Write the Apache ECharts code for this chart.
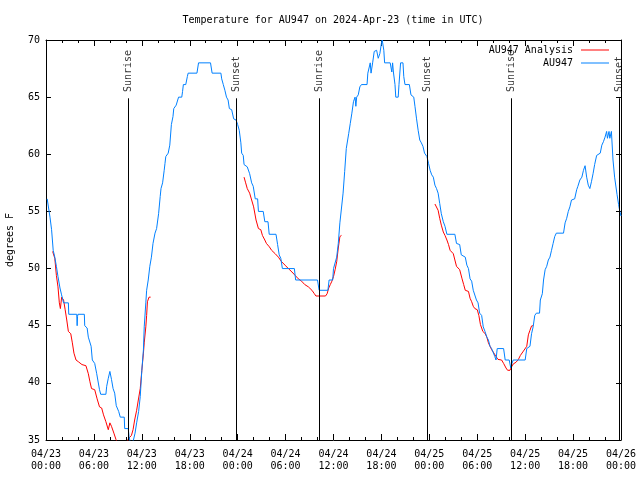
<!DOCTYPE html>
<html>
<head>
<meta charset="utf-8">
<script src="https://cdn.jsdelivr.net/npm/echarts@6/dist/echarts.min.js"></script>
<style>html,body{margin:0;padding:0;background:#fff}#c{width:640px;height:480px}</style>
</head>
<body>
<div id="c"></div>
<script>
// Hours since 2024-04-23 00:00 UTC
var obsTime = [0.15,0.3,0.5,0.7,0.9,1.1,1.3,1.5,1.75,1.95,2.2,2.8,2.85,3.85,3.9,3.95,4.0,4.8,4.85,5.15,5.3,5.65,5.8,6.1,6.35,6.7,6.85,7.5,7.6,7.8,8.0,8.2,8.4,8.6,8.8,9.1,9.3,9.8,9.85,10.3,10.4,10.6,10.8,10.95,11.15,11.35,11.6,11.8,12.0,12.2,12.3,12.5,12.6,12.8,13.0,13.2,13.4,13.65,13.85,14.1,14.3,14.4,14.6,14.8,14.9,15.0,15.3,15.5,15.7,15.9,16.0,16.3,16.6,17.0,17.1,17.2,17.5,17.7,17.8,18.9,19.1,20.6,20.8,21.9,22.0,22.2,22.4,22.6,22.8,22.96,23.25,23.5,23.8,24.0,24.2,24.4,24.5,24.7,24.8,25.2,25.5,25.75,25.95,26.2,26.5,26.6,27.2,27.4,27.8,27.95,28.8,29.0,29.2,29.4,29.6,31.1,31.26,34.0,34.2,35.3,35.45,35.9,36.0,36.2,36.4,36.6,36.8,37.0,37.2,37.4,37.6,37.9,38.1,38.3,38.5,38.7,38.8,38.9,39.1,39.3,39.5,40.2,40.3,40.6,40.7,40.9,41.1,41.4,41.6,41.8,42.0,42.1,42.3,42.4,43.1,43.3,43.4,43.5,43.7,43.8,44.1,44.2,44.4,44.7,44.8,44.95,45.5,45.7,46.05,46.2,46.4,46.6,46.8,47.0,47.2,47.4,47.7,47.9,48.1,48.3,48.5,48.7,48.9,49.1,49.3,49.5,49.75,49.96,50.2,51.2,51.4,51.8,52.0,52.5,52.7,52.9,53.1,53.3,53.5,53.7,53.9,54.1,54.3,54.55,54.75,54.97,55.2,55.4,55.6,55.8,56.0,56.2,56.35,56.5,57.3,57.5,58.0,58.2,58.35,58.5,60.0,60.2,60.6,60.8,61.0,61.2,61.4,61.8,61.9,62.15,62.3,62.5,62.7,62.9,63.1,63.3,63.5,63.7,63.9,64.8,65.0,65.2,65.4,65.6,65.8,66.2,66.45,66.6,66.85,67.1,67.3,67.5,67.7,67.9,68.1,68.3,68.5,68.7,68.95,69.4,69.6,69.8,70.0,70.2,70.3,70.5,70.6,70.8,71.0,71.2,71.5,71.7,71.85,72.0];
var obsTemp = [56.1,56,54.5,53.4,51.6,51,50.2,49.3,48.3,47.7,47,47,46,46,45,45.8,46,46,45,44.8,44,43.2,42,41.7,40.8,39.4,39,39,39.7,40.4,41,40.3,39.5,39.1,38,37.5,37,37,36,36,35.3,34.6,34.8,35,35.6,36.5,37.5,38.8,41.1,42.9,44.9,47,48.1,49,50.2,51,52.2,53.1,53.5,54.8,56.3,57,57.5,58.6,59.2,59.8,60.1,60.8,62.6,63.3,64,64.3,65,65,65.5,66.1,66.1,66.8,67.1,67.1,68,68,67.1,67.1,66.6,66.1,65.6,65,64.75,64,63.9,63.1,63,62.6,62.1,61,60.1,59.9,59.1,58.9,58.3,57.5,57.2,56.1,56.1,55,55,54.1,54.1,53,53,52.1,51.2,50.9,50,50,49,49,48.1,48.1,49,49,50,50,51,52.2,54,55.3,56.6,58.5,60.5,61.8,62.7,63.6,64.6,65,64.2,65,65.2,65.9,66.1,66.1,67.1,68,67.1,68,69,69.1,68.4,68.8,69.7,70,69.1,68,68,67.2,68,67.2,66.1,65,65,66.1,68,68,66.8,66.1,66.1,65.2,65,64.2,63.1,62.1,61.25,61,60.7,60.1,59.8,59.2,58.6,58.2,58,57.3,57,56.6,55.7,54.8,54.1,53.7,53,53,52.2,52.1,51.2,51,50.3,50,49.1,48.9,48.1,48,47.25,47,46.1,45.9,44.9,44.5,44,43.75,43.2,43,42.9,42.3,42,43,43,42,42,41.3,41.7,42,42,43,43.2,44.3,44.9,45.9,46.1,46.1,47.25,47.8,49,49.9,50.2,50.75,51,51.6,52.2,52.8,53.1,53.1,54,54.4,55,55.4,56,56.1,56.9,57.2,57.75,58,58.6,59,58,57.3,57,57.6,58.3,59.1,59.9,60.1,60.8,61.1,61.5,62,61.4,62,61.4,62,59.5,58,56.5,55.6,55,54.6];

var anaTime = [0.83,1.0,1.1,1.3,1.5,1.67,1.8,1.96,2.2,2.4,2.6,2.8,3.1,3.3,3.5,3.76,4.05,4.5,5.0,5.3,5.5,5.7,6.1,6.4,6.7,6.97,7.2,7.5,7.8,8.0,8.2,8.5,8.76,9.2,9.7,10.1,10.3,10.7,10.9,11.1,11.35,11.56,11.8,12.0,12.2,12.3,12.5,12.6,12.7,12.9,13.1,
  18,
  24.8,25.0,25.2,25.5,25.75,26.0,26.3,26.6,26.9,27.1,27.4,27.6,27.97,28.25,28.7,29.1,29.5,29.93,30.35,30.8,31.2,31.6,32.0,32.4,32.85,33.3,33.6,33.8,35.0,35.2,35.4,35.6,35.8,36.0,36.2,36.4,36.6,36.8,37.0,
  42,
  48.7,48.9,49.1,49.3,49.5,49.75,49.96,50.2,50.4,50.6,51.0,51.2,51.4,51.8,52.1,52.3,52.5,52.9,53.1,53.3,53.5,53.7,54.0,54.2,54.4,54.7,55.0,55.2,55.4,55.6,55.8,56.0,56.35,56.6,57.05,57.3,57.6,57.8,58.1,58.3,58.5,58.85,59.15,59.4,59.7,59.9,60.2,60.4,60.6,60.8,61.0];
var anaTemp = [51.5,51.4,50.9,49.4,48.4,47,46.5,47.5,47.25,46.4,45.5,44.5,44.3,43.5,42.6,42,41.85,41.6,41.5,40.8,40.1,39.5,39.4,38.6,37.9,37.8,37.2,36.6,35.9,36.5,36.2,35.6,35.05,34.3,34.0,34.6,35.1,35.4,35.9,36.75,37.6,38.5,39.5,41.1,42.6,43.5,44.9,45.9,47.1,47.5,47.5,
  null,
  58.0,57.5,57,56.6,56,55.4,54.25,53.5,53.4,52.9,52.5,52.2,51.9,51.6,51.3,51,50.6,50.3,50,49.7,49.4,49.1,48.9,48.6,48.4,48.1,47.8,47.6,47.6,47.8,48.3,48.6,48.9,49.3,49.9,50.6,51.8,52.8,52.9,
  null,
  55.65,55.65,55.1,54.4,53.8,53.2,52.9,52.5,52.1,51.6,51.3,50.75,50.2,49.9,49.1,48.6,48.1,48,47.4,47.1,46.7,46.5,46.4,45.9,45.1,44.5,44.3,44,43.5,43.2,42.9,42.7,42.3,42.05,42,41.7,41.3,41.1,41.1,41.4,41.65,41.8,42.05,42.4,42.7,42.8,43.2,44.2,44.6,44.98,45];

var sunTime = [10.3, 23.8, 34.2, 47.75, 58.25, 71.8];
var sunLabel = ['Sunrise','Sunset','Sunrise','Sunset','Sunrise','Sunset'];
var sunLineTop = 64.9;
var sunLabelBase = 65.45;

var xTickLabels = ['04/23\n00:00','04/23\n06:00','04/23\n12:00','04/23\n18:00','04/24\n00:00','04/24\n06:00','04/24\n12:00','04/24\n18:00','04/25\n00:00','04/25\n06:00','04/25\n12:00','04/25\n18:00','04/26\n00:00'];

var FONT = 'DejaVu Sans Mono';

var obsData = obsTime.map(function(t,i){return [t, obsTemp[i]];});
var anaData = anaTime.map(function(t,i){return [t, anaTemp[i] === null ? '-' : anaTemp[i]];});
var sunData = sunTime.map(function(t,i){return {name: sunLabel[i], value: [t, sunLabelBase]};});
var sunLines = sunTime.map(function(t){return [{coord:[t, sunLineTop]},{coord:[t, 35]}];});

var chart = echarts.init(document.getElementById('c'), null, {renderer:'canvas'});
var xCommon = {
  type:'value', min:0, max:72, interval:6,
  axisLine:{show:true, onZero:false, lineStyle:{color:'#000', width:1}},
  axisTick:{show:true, inside:true, length:6, lineStyle:{color:'#000'}},
  minorTick:{show:true, splitNumber:3, length:3, lineStyle:{color:'#000'}},
  splitLine:{show:false}
};
var yCommon = {
  type:'value', min:35, max:70, interval:5,
  axisLine:{show:true, onZero:false, lineStyle:{color:'#000', width:1}},
  axisTick:{show:true, inside:true, length:5, lineStyle:{color:'#000'}},
  splitLine:{show:false}
};
chart.setOption({
  animation:false,
  backgroundColor:'#fff',
  title:{
    text:'Temperature for AU947 on 2024-Apr-23 (time in UTC)',
    left:333, top:15, textAlign:'center', padding:0,
    textStyle:{fontFamily:FONT, fontSize:10, fontWeight:'normal', color:'#000'}
  },
  legend:{
    data:['AU947 Analysis','AU947'],
    orient:'vertical', right:31, top:44, align:'right', padding:0,
    icon:'rect', itemWidth:28, itemHeight:1, itemGap:1,
    textStyle:{fontFamily:FONT, fontSize:10, color:'#000', lineHeight:12, padding:[0,3,0,0]}
  },
  grid:{left:46, right:19, top:40, bottom:40, containLabel:false, outerBoundsMode:'none'},
  xAxis:[
    Object.assign({}, xCommon, {position:'bottom',
      axisLabel:{show:true, margin:8, fontFamily:FONT, fontSize:10, color:'#000', lineHeight:12,
        formatter:function(v){return xTickLabels[Math.round(v/6)];}}}),
    Object.assign({}, xCommon, {position:'top', axisLabel:{show:false}})
  ],
  yAxis:[
    Object.assign({}, yCommon, {position:'left', name:'degrees F', nameLocation:'middle', nameGap:31, nameRotate:90,
      nameTextStyle:{fontFamily:FONT, fontSize:10, color:'#000'},
      axisLabel:{show:true, margin:6, fontFamily:FONT, fontSize:10, color:'#000'}}),
    Object.assign({}, yCommon, {position:'right', axisLabel:{show:false}})
  ],
  series:[
    {
      name:'AU947 Analysis', type:'line', data:anaData, symbol:'none', connectNulls:false,
      lineStyle:{color:'#ff0000', width:1}, itemStyle:{color:'#ff0000'}, z:3
    },
    {
      name:'AU947', type:'line', data:obsData, symbol:'none',
      lineStyle:{color:'#0080ff', width:1}, itemStyle:{color:'#0080ff'}, z:4
    },
    {
      name:'sun', type:'scatter', data:sunData, symbolSize:0, silent:true, z:5,
      label:{show:true, formatter:'{b}', rotate:90, position:'inside', align:'left', verticalAlign:'middle',
        fontFamily:FONT, fontSize:10, color:'#000'},
      markLine:{silent:true, symbol:['none','none'], label:{show:false},
        lineStyle:{color:'#000', width:1, type:'solid'}, data:sunLines}
    }
  ]
});
</script>
</body>
</html>
